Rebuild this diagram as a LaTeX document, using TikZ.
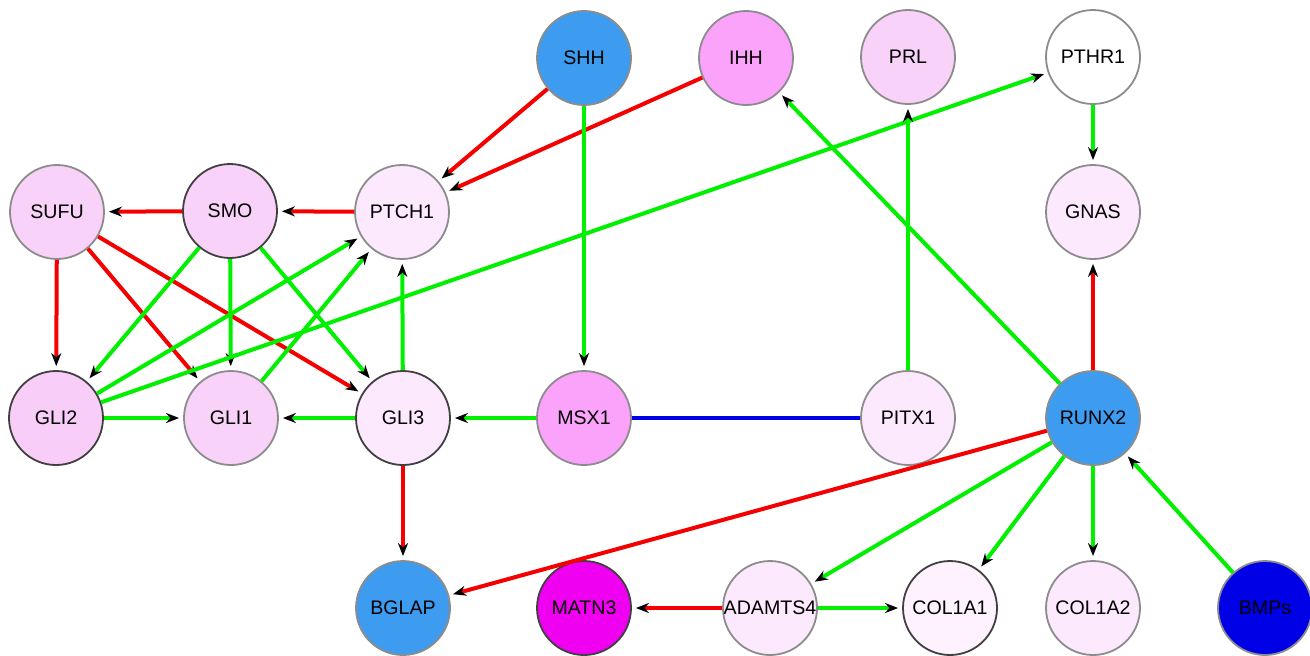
\documentclass[tikz,border=0pt]{standalone}
\usepackage{fontspec}
\setmainfont{Liberation Sans}
\usetikzlibrary{arrows.meta}
\definecolor{cblue}{HTML}{3D9CF0}
\definecolor{cdblue}{HTML}{0000E6}
\definecolor{cmag}{HTML}{F000F0}
\definecolor{cmid}{HTML}{FBA3FB}
\definecolor{clt}{HTML}{F8D2F8}
\definecolor{cvlt}{HTML}{FDE9FD}
\definecolor{cgreen}{HTML}{00F000}
\definecolor{cred}{HTML}{F50000}
\definecolor{cline}{HTML}{0000E6}
\tikzset{
  gn/.style={circle, minimum size=47pt, inner sep=0pt, draw=black!45, line width=0.9pt,
    font=\fontsize{9.8}{11}\selectfont, text=black},
  dk/.style={draw=black!75},
  act/.style={draw=cgreen, line width=2pt, -{Stealth[black,length=6.5pt,width=5pt]}, shorten >=2pt},
  inh/.style={draw=cred, line width=2pt, -{Stealth[black,length=6.5pt,width=5pt]}, shorten >=2pt},
  assoc/.style={draw=cline, line width=2pt},
}
\begin{document}
\begin{tikzpicture}[x=0.5pt,y=-0.5pt]
\useasboundingbox (0,0) rectangle (1310,655);
% nodes
\node[gn, fill=cblue] (SHH) at (584,58) {SHH};
\node[gn, fill=cmid] (IHH) at (746,58) {IHH};
\node[gn, fill=clt] (PRL) at (908,57) {PRL};
\node[gn, fill=white] (PTHR1) at (1093,57) {PTHR1};
\node[gn, fill=clt] (SUFU) at (57,212) {SUFU};
\node[gn, dk, fill=clt] (SMO) at (230,211) {SMO};
\node[gn, fill=cvlt] (PTCH1) at (402,212) {PTCH1};
\node[gn, fill=cvlt] (GNAS) at (1093,212) {GNAS};
\node[gn, dk, fill=clt!92!cmid] (GLI2) at (56,418) {GLI2};
\node[gn, fill=clt] (GLI1) at (231,418) {GLI1};
\node[gn, dk, fill=cvlt] (GLI3) at (403,418) {GLI3};
\node[gn, fill=cmid] (MSX1) at (584,418) {MSX1};
\node[gn, fill=cvlt] (PITX1) at (908,418) {PITX1};
\node[gn, fill=cblue] (RUNX2) at (1093,418) {RUNX2};
\node[gn, fill=cblue] (BGLAP) at (403,608) {BGLAP};
\node[gn, dk, fill=cmag] (MATN3) at (584,608) {MATN3};
\node[gn, fill=cvlt] (ADAMTS4) at (770,608) {ADAMTS4};
\node[gn, dk, fill=cvlt!60!white] (COL1A1) at (950,608) {COL1A1};
\node[gn, fill=cvlt] (COL1A2) at (1093,608) {COL1A2};
\node[gn, fill=cdblue] (BMPs) at (1265,608) {BMPs};
% inhibitory (red)
\draw[inh] (SMO) -- (SUFU);
\draw[inh] (PTCH1) -- (SMO);
\draw[inh] (SHH) -- (PTCH1);
\draw[inh] (IHH) -- (PTCH1);
\draw[inh] (SUFU) -- (GLI2);
\draw[inh] (SUFU) -- (GLI1);
\draw[inh] (SUFU) -- (GLI3);
\draw[inh] (GLI3) -- (BGLAP);
\draw[inh] (RUNX2) -- (BGLAP);
\draw[inh] (RUNX2) -- (GNAS);
\draw[inh] (ADAMTS4) -- (MATN3);
% activating (green)
\draw[act] (SMO) -- (GLI2);
\draw[act] (SMO) -- (GLI1);
\draw[act] (SMO) -- (GLI3);
\draw[act] (GLI2) -- (PTCH1);
\draw[act] (GLI2) -- (PTHR1);
\draw[act] (GLI2) -- (GLI1);
\draw[act] (GLI1) -- (PTCH1);
\draw[act] (GLI3) -- (PTCH1);
\draw[act] (GLI3) -- (GLI1);
\draw[act] (MSX1) -- (GLI3);
\draw[act] (SHH) -- (MSX1);
\draw[act] (PITX1) -- (PRL);
\draw[act] (RUNX2) -- (IHH);
\draw[act] (PTHR1) -- (GNAS);
\draw[act] (RUNX2) -- (ADAMTS4);
\draw[act] (RUNX2) -- (COL1A1);
\draw[act] (RUNX2) -- (COL1A2);
\draw[act] (BMPs) -- (RUNX2);
\draw[act] (ADAMTS4) -- (COL1A1);
% association (blue)
\draw[assoc] (MSX1) -- (PITX1);
\end{tikzpicture}
\end{document}
